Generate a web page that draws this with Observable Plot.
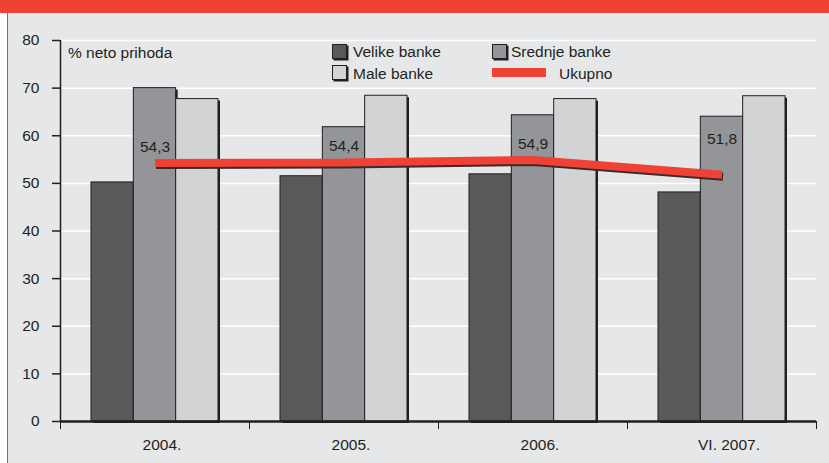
<!DOCTYPE html>
<html>
<head>
<meta charset="utf-8">
<script src="https://cdn.jsdelivr.net/npm/d3@7"></script>
<script src="https://cdn.jsdelivr.net/npm/@observablehq/plot@0.6"></script>
<style>
  body { margin: 0; background: #ffffff; font-family: "Liberation Sans", Arial, sans-serif; }
  #wrap { position: relative; width: 829px; height: 463px; overflow: hidden; }
  #header { position: absolute; left: 0; top: 0; width: 829px; height: 13px; background: #ef4136; }
  #panel { position: absolute; left: 7px; top: 13px; width: 822px; height: 450px; background: #e6e7e8; border-left: 1px solid #ef4136; box-sizing: border-box; }
  #chart { position: absolute; left: 8px; top: 13px; }
  .lg { position: absolute; font-size: 15.5px; color: #231f20; line-height: 1; white-space: nowrap; }
  .sw { position: absolute; width: 13px; height: 13px; border: 1px solid #231f20; box-shadow: 1.5px 1.5px 0 #231f20; }
  #ylab { position: absolute; left: 68px; top: 45px; font-size: 15.5px; color: #231f20; line-height: 1; }
</style>
</head>
<body>
<div id="wrap">
  <div id="header"></div>
  <div id="panel"></div>
  <div id="chart"></div>
  <div id="ylab">% neto prihoda</div>
  <div id="legend"></div>
</div>
<script>
const years = ["2004.", "2005.", "2006.", "VI. 2007."];
const velike = [50.2, 51.5, 51.9, 48.1];
const srednje = [70.0, 61.8, 64.3, 64.0];
const male = [67.7, 68.4, 67.7, 68.3];
const ukupno = [54.3, 54.4, 54.9, 51.8];
const ukupnoLabels = ["54,3", "54,4", "54,9", "51,8"];
const yTicks = [0, 10, 20, 30, 40, 50, 60, 70, 80];
const seriesNames = ["Velike banke", "Srednje banke", "Male banke", "Ukupno"];

const colors = { velike: "#58595b", srednje: "#939598", male: "#d1d3d4", ukupno: "#ef4136" };
const ink = "#231f20";

const W = 821, H = 450, mL = 52, mR = 13, mT = 27, mB = 42;
const step = (W - mL - mR) / years.length;
const barW = step * 0.224;
const groupW = barW * 3;
const side = (step - groupW) / 2;

const rows = years.map((y, i) => ({ year: y, velike: velike[i], srednje: srednje[i], male: male[i], ukupno: ukupno[i], label: ukupnoLabels[i], i }));

function barPair(key, k) {
  const insetLeft = side + k * barW;
  const insetRight = step - insetLeft - barW;
  return [
    Plot.barY(rows, { x: "year", y: key, insetLeft, insetRight, fill: ink, dx: 2, dy: 2 }),
    Plot.barY(rows, { x: "year", y: key, insetLeft, insetRight, fill: colors[key], stroke: ink, strokeWidth: 1 })
  ];
}

const chart = Plot.plot({
  width: W, height: H,
  marginLeft: mL, marginRight: mR, marginTop: mT, marginBottom: mB,
  style: { background: "transparent", fontFamily: "'Liberation Sans', Arial, sans-serif", fontSize: "15.5px", color: ink },
  x: { type: "band", domain: years, padding: 0, axis: null, label: null },
  y: { domain: [0, 80], axis: null, label: null },
  marks: [
    Plot.ruleY(yTicks.filter(d => d > 0), { stroke: "#ffffff", strokeWidth: 1.5 }),
    ...barPair("velike", 0),
    ...barPair("srednje", 1),
    ...barPair("male", 2),
    Plot.ruleY([0], { stroke: ink, strokeWidth: 2.5 }),
    Plot.ruleX([years[0]], { x: d => d, dx: -step / 2, y1: 0, y2: 80, stroke: ink, strokeWidth: 1.5 }),
    Plot.ruleX(years, { x: d => d, dx: -step / 2, y1: 0, y2: -1.7, stroke: ink, strokeWidth: 1 }),
    Plot.ruleX([years[years.length - 1]], { x: d => d, dx: step / 2, y1: 0, y2: -1.7, stroke: ink, strokeWidth: 1 }),
    Plot.axisY({ ticks: yTicks, tickSize: 8, tickPadding: 13, tickFormat: d => String(d), stroke: ink, strokeWidth: 1.5, fill: ink, fontSize: 15.5, label: null }),
    Plot.axisX({ tickSize: 0, tickPadding: 17, dx: 7, fill: ink, fontSize: 15.5, label: null }),
    Plot.line(rows, { x: "year", y: "ukupno", stroke: "#3b2a2a", strokeWidth: 8, dx: 1, dy: 2, strokeLinecap: "butt", strokeLinejoin: "miter" }),
    Plot.line(rows, { x: "year", y: "ukupno", stroke: colors.ukupno, strokeWidth: 8, strokeLinecap: "butt", strokeLinejoin: "miter" }),
    Plot.text(rows.filter(d => d.i < 3), { x: "year", y: "ukupno", text: "label", dy: -16, fill: ink, fontSize: 15.5 }),
    Plot.text(rows.filter(d => d.i === 3), { x: "year", y: "ukupno", text: "label", dy: -36, fill: ink, fontSize: 15.5 })
  ]
});
document.getElementById("chart").appendChild(chart);

// legend
const legend = document.getElementById("legend");
const items = [
  { name: seriesNames[0], color: colors.velike, sx: 332, sy: 44, tx: 353, ty: 44 },
  { name: seriesNames[1], color: colors.srednje, sx: 492, sy: 44, tx: 511, ty: 44 },
  { name: seriesNames[2], color: colors.male, sx: 332, sy: 65, tx: 353, ty: 66 },
];
items.forEach(it => {
  const s = document.createElement("div");
  s.className = "sw";
  s.style.left = it.sx + "px"; s.style.top = it.sy + "px"; s.style.background = it.color;
  legend.appendChild(s);
  const t = document.createElement("div");
  t.className = "lg";
  t.style.left = it.tx + "px"; t.style.top = it.ty + "px";
  t.textContent = it.name;
  legend.appendChild(t);
});
const ln = document.createElement("div");
ln.style.cssText = "position:absolute;left:492px;top:68px;width:54px;height:9px;background:" + colors.ukupno + ";";
legend.appendChild(ln);
const lt = document.createElement("div");
lt.className = "lg";
lt.style.left = "559px"; lt.style.top = "66px";
lt.textContent = seriesNames[3];
legend.appendChild(lt);
</script>
</body>
</html>
